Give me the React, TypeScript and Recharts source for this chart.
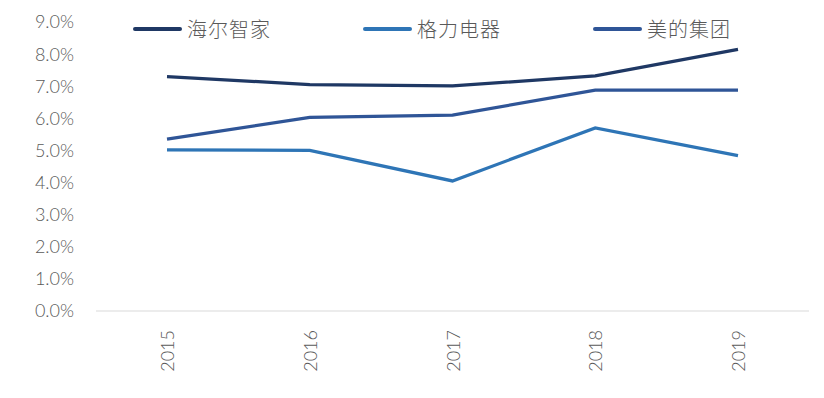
import React from "react";
import { LineChart, Line, XAxis, YAxis } from "recharts";

const years = ["2015", "2016", "2017", "2018", "2019"];
const haier = [0.073, 0.0705, 0.0701, 0.0732, 0.0815];
const gree = [0.0502, 0.05, 0.0405, 0.057, 0.0484];
const midea = [0.0535, 0.0603, 0.061, 0.0688, 0.0688];
const yTicks = [0, 0.01, 0.02, 0.03, 0.04, 0.05, 0.06, 0.07, 0.08, 0.09];

const series = [
  { key: "haier", name: "海尔智家", color: "#1F3864" },
  { key: "gree", name: "格力电器", color: "#2E75B6" },
  { key: "midea", name: "美的集团", color: "#2F5597" },
];

const data = years.map((year, i) => ({
  year,
  haier: haier[i],
  gree: gree[i],
  midea: midea[i],
}));

const textColor = "#595959";
const fontFamily = "Lato, 'Noto Sans CJK SC', sans-serif";

const YearTick = ({ x, y, payload }: any) => (
  <text
    x={x}
    y={y + 11}
    transform={`rotate(-90, ${x}, ${y + 11})`}
    textAnchor="end"
    dominantBaseline="central"
    fill={textColor}
    fontSize={18}
    fontWeight={300}
    fontFamily={fontFamily}
  >
    {payload.value}
  </text>
);

export default function App() {
  return (
    <div
      style={{
        position: "absolute",
        left: 0,
        top: 0,
        width: 824,
        height: 398,
        background: "#fff",
      }}
    >
      <div
        style={{
          position: "absolute",
          top: 14,
          left: 133,
          display: "flex",
          fontFamily,
          fontWeight: 300,
          fontSize: 20,
          letterSpacing: 1,
          color: textColor,
        }}
      >
        {series.map((s) => (
          <div
            key={s.key}
            style={{ width: 230, display: "flex", alignItems: "center" }}
          >
            <span
              style={{
                display: "inline-block",
                width: 49,
                height: 4,
                borderRadius: 2,
                background: s.color,
                marginRight: 5,
              }}
            />
            <span>{s.name}</span>
          </div>
        ))}
      </div>
      <LineChart
        width={824}
        height={398}
        data={data}
        margin={{ top: 22, right: 15, left: 0, bottom: 0 }}
      >
        <XAxis
          dataKey="year"
          axisLine={{ stroke: "#D9D9D9", strokeWidth: 1 }}
          tickLine={false}
          padding={{ left: 71, right: 71 }}
          tick={<YearTick />}
          interval={0}
          height={87}
        />
        <YAxis
          width={96}
          domain={[0, 0.09]}
          ticks={yTicks}
          axisLine={false}
          tickLine={false}
          tickSize={0}
          tickMargin={22}
          interval={0}
          tickFormatter={(v: number) => `${(v * 100).toFixed(1)}%`}
          tick={{ fill: textColor, fontSize: 18, fontWeight: 300, fontFamily }}
        />
        {series.map((s) => (
          <Line
            key={s.key}
            type="linear"
            dataKey={s.key}
            name={s.name}
            stroke={s.color}
            strokeWidth={3.25}
            dot={false}
            activeDot={false}
            isAnimationActive={false}
          />
        ))}
      </LineChart>
    </div>
  );
}
